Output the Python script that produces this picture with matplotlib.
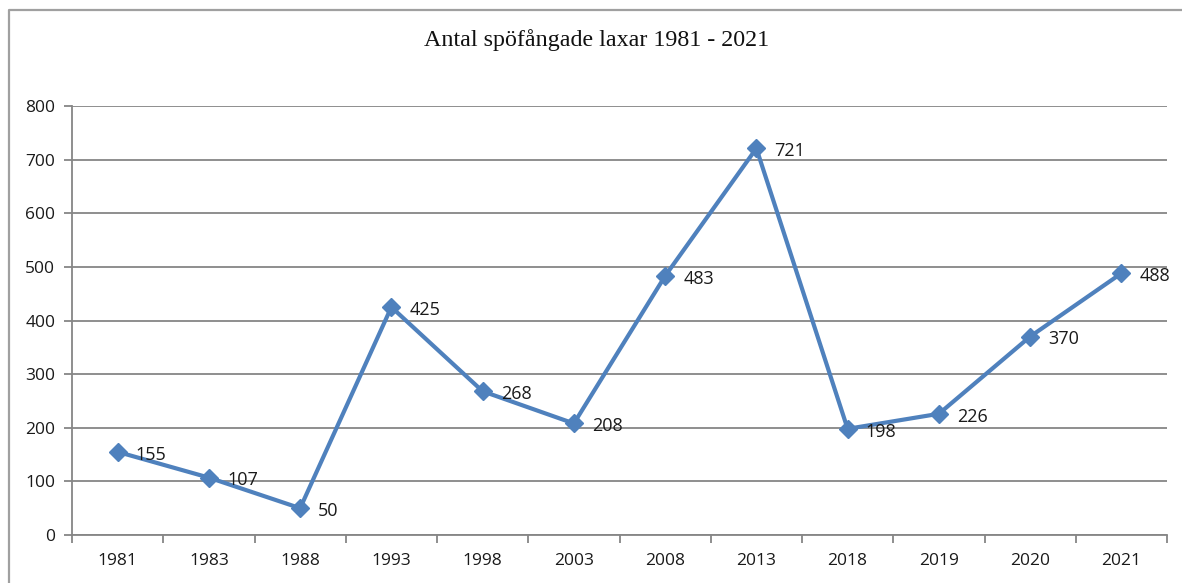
import numpy as np
import matplotlib.pyplot as plt
from matplotlib.lines import Line2D
from matplotlib.ticker import FixedLocator, NullFormatter

years = ['1981', '1983', '1988', '1993', '1998', '2003',
         '2008', '2013', '2018', '2019', '2020', '2021']
catches = [155, 107, 50, 425, 268, 208, 483, 721, 198, 226, 370, 488]

title = 'Antal spöfångade laxar 1981 - 2021'

line_color = '#4F81BD'
grid_color = '#868686'
text_color = '#1a1a1a'

fig = plt.figure(figsize=(11.82, 5.83), dpi=100)
W, H = 1182, 583

# outer chart frame: only the top and left edges are inside the picture
fx, fy = 9 / W, 1 - 10 / H
fig.add_artist(Line2D([fx, fx, 1.0], [0.0, fy, fy], transform=fig.transFigure,
                      color='#a0a0a0', linewidth=1.6))

ax = fig.add_axes([72 / W, 1 - 535 / H, (1167 - 72) / W, (535 - 106) / H])

x = np.arange(len(years))
ax.plot(x, catches, color=line_color, linewidth=3.0, marker='D',
        markersize=9, markeredgecolor=line_color, zorder=3)

for xi, v in zip(x, catches):
    ax.annotate(str(v), (xi, v), xytext=(13, -2), textcoords='offset points',
                ha='left', va='center', fontsize=13, color=text_color,
                family='Open Sans')

ax.set_xlim(-0.5, len(years) - 0.5)
ax.set_ylim(0, 800)
ax.set_yticks(np.arange(0, 801, 100))
ax.set_xticks(x)
ax.set_xticklabels(years)
ax.xaxis.set_minor_locator(FixedLocator(np.arange(-0.5, len(years), 1.0)))
ax.xaxis.set_minor_formatter(NullFormatter())

ax.tick_params(axis='x', which='major', length=0, pad=13,
               labelsize=12.5, labelcolor=text_color)
ax.tick_params(axis='x', which='minor', length=6, width=1.3,
               color=grid_color)
ax.tick_params(axis='y', length=6, width=1.3, color=grid_color,
               labelsize=12.5, labelcolor=text_color, pad=6)
for lab in ax.get_xticklabels() + ax.get_yticklabels():
    lab.set_family('Open Sans')

ax.grid(axis='y', color=grid_color, linewidth=1.3)
ax.set_axisbelow(True)
for side in ['top', 'right']:
    ax.spines[side].set_visible(False)
for side in ['left', 'bottom']:
    ax.spines[side].set_color(grid_color)
    ax.spines[side].set_linewidth(1.3)

fig.text(597 / W, 1 - 40 / H, title, ha='center', va='center',
         fontsize=17.3, family='Liberation Serif', color='#111111')

plt.savefig('out.png', dpi=100)
